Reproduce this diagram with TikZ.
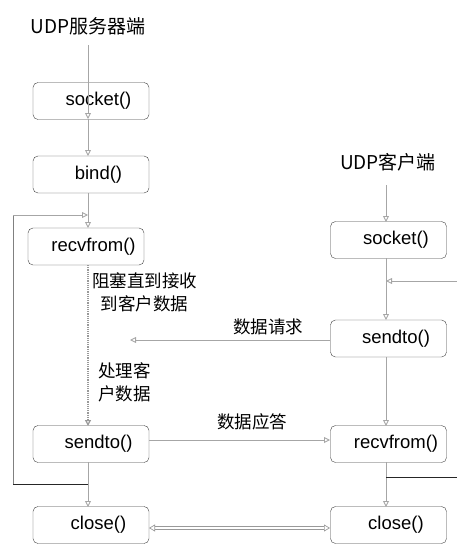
\documentclass[tikz,border=0pt]{standalone}
\usepackage{fontspec}
\setmainfont{Liberation Sans}
\newfontfamily\cjk{Noto Sans CJK SC}
\usetikzlibrary{arrows.meta}
\begin{document}
\begin{tikzpicture}[x=1pt,y=-1pt,
  fbox/.style={draw=black!75,rounded corners=5pt,minimum width=116pt,minimum height=37pt,inner sep=0pt,font=\fontsize{18.5}{18.5}\selectfont,execute at begin node={\hspace*{15pt}}},
  ttl/.style={font=\cjk\fontsize{19}{19}\selectfont,inner sep=0pt},
  lbl/.style={font=\cjk\fontsize{17.5}{23}\selectfont,inner sep=0pt,align=center},
  arr/.style={draw=black!35,line width=0.9pt,-{Triangle[open,length=6pt,width=6pt]}},
  dline/.style={draw=black!85,line width=1pt},
  dots/.style={draw=black!40,line width=1.2pt,densely dotted,-{Triangle[open,length=6pt,width=6pt]}}
]
\useasboundingbox (0,0) rectangle (457,544);
% server
\node[ttl] (st) at (88,26) {UDP服务器端};
\node[fbox] (ss) at (91,101) {socket()};
\node[fbox] (sb) at (91,174.5) {bind()};
\node[fbox] (sr) at (86,246.5) {recvfrom()};
\node[fbox] (sd) at (91,444) {sendto()};
\node[fbox] (sc) at (91,525) {close()};
% client
\node[ttl] (ct) at (388,162) {UDP客户端};
\node[fbox] (cs) at (388.5,240) {socket()};
\node[fbox] (cd) at (388.5,338.5) {sendto()};
\node[fbox] (cr) at (388.5,444) {recvfrom()};
\node[fbox] (cc) at (388.5,525) {close()};
% labels
\node[lbl,anchor=north west] (l1) at (92,272) {阻塞直到接收\\到客户数据};
\node[lbl,anchor=north west] (l2) at (98,362) {处理客\\户数据};
\node[lbl] (l3) at (268,327) {数据请求};
\node[lbl] (l4) at (252,422) {数据应答};
% coordinates
\coordinate (a0) at (88,45);
\coordinate (a1) at (88,119);
\coordinate (a2) at (88,156);
\coordinate (a3) at (88,193);
\coordinate (a4) at (88,228);
\coordinate (a5) at (88,265);
\coordinate (a6) at (88,426);
\coordinate (a7) at (88,462);
\coordinate (a8) at (88,507);
\coordinate (lp0) at (88,484);
\coordinate (lp1) at (13,484);
\coordinate (lp2) at (13,215);
\coordinate (lp3) at (88,215);
\coordinate (b0) at (386,185);
\coordinate (b1) at (386,222);
\coordinate (b2) at (386,258);
\coordinate (b3) at (386,320);
\coordinate (b4) at (386,357);
\coordinate (b5) at (386,426);
\coordinate (b6) at (386,462);
\coordinate (b7) at (386,507);
\coordinate (r0) at (457,281);
\coordinate (r1) at (386,281);
\coordinate (r2) at (386,477);
\coordinate (r3) at (457,477);
\coordinate (m0) at (330,340);
\coordinate (m1) at (130,340);
\coordinate (m2) at (149,440);
\coordinate (m3) at (330,440);
\coordinate (m4) at (149,528);
\coordinate (m5) at (330,528);
% server connectors
\draw[arr] (a0) -- (a1);
\draw[arr] (a1) -- (a2);
\draw[arr] (a3) -- (a4);
\draw[dots] (a5) -- (a6);
\draw[arr] (a7) -- (a8);
\draw[draw=black!50,line width=0.9pt] (lp1) -- (lp2);
\draw[arr] (lp2) -- (lp3);
\draw[dline] (lp0) -- (lp1);
% client connectors
\draw[arr] (b0) -- (b1);
\draw[arr] (b2) -- (b3);
\draw[arr] (b4) -- (b5);
\draw[arr] (b6) -- (b7);
\draw[arr] (r0) -- (r1);
\draw[dline] (r2) -- (r3);
% cross connectors
\draw[arr] (m0) -- (m1);
\draw[arr] (m2) -- (m3);
\draw[draw=black!40,line width=0.7pt,double=white,double distance=2pt,{Triangle[open,length=6pt,width=7pt]}-{Triangle[open,length=6pt,width=7pt]}] (m4) -- (m5);
\end{tikzpicture}
\end{document}
